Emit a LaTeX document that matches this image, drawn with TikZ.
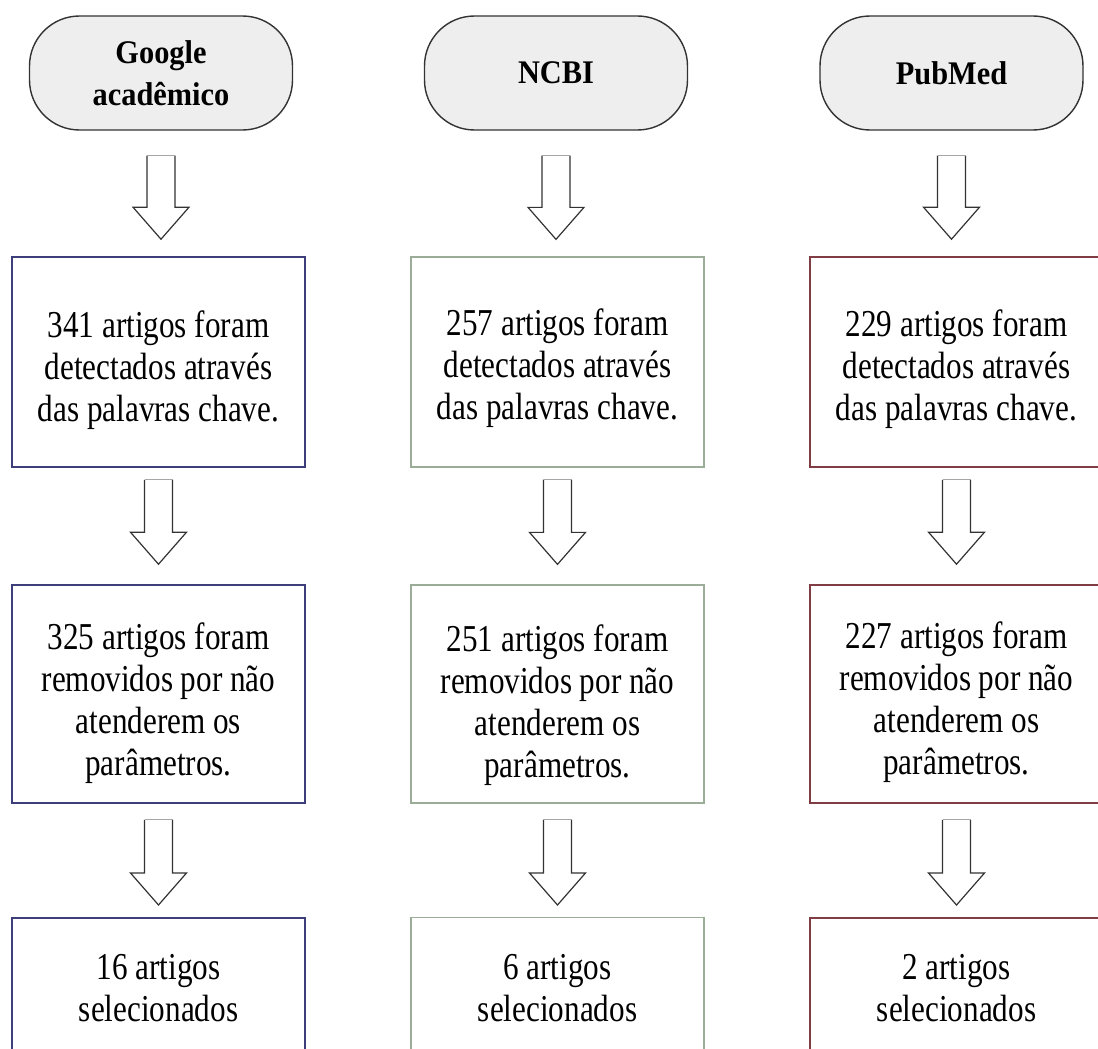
\documentclass[tikz,border=0pt]{standalone}
\usepackage{fontspec}
\setmainfont{Liberation Serif}
\newfontfamily\bodyfont[FakeStretch=0.82]{Liberation Serif}
\newfontfamily\pillfont[FakeStretch=0.92]{Liberation Serif}
\usetikzlibrary{calc}
\definecolor{bluebd}{RGB}{62,62,122}
\definecolor{greenbd}{RGB}{155,172,152}
\definecolor{redbd}{RGB}{128,62,68}
\definecolor{pillfill}{RGB}{238,238,238}
% hollow block arrow from node #1 (south) to node #2 (north); #3 gap at top, #4 gap at tip
\newcommand{\blockarr}[4]{%
  \draw[harrow] let \p1=(#1.south), \p2=(#2.north) in
    (\x1-14pt,\y1-#3) -- (\x1-14pt,\y2+#4+32pt) -- (\x1-28pt,\y2+#4+32pt)
    -- (\x1,\y2+#4) -- (\x1+28pt,\y2+#4+32pt) -- (\x1+14pt,\y2+#4+32pt)
    -- (\x1+14pt,\y1-#3);
  \draw[harrowtop] let \p1=(#1.south) in (\x1-14pt,\y1-#3) -- (\x1+14pt,\y1-#3);}
\begin{document}
\begin{tikzpicture}[x=1pt,y=-1pt,
  pill/.style={draw=black!80, fill=pillfill, line width=1.4pt, rounded corners=50pt,
    minimum width=263pt, minimum height=114pt, align=center, inner sep=0pt,
    font=\pillfont\bfseries\fontsize{33}{42}\selectfont},
  box/.style={draw, line width=1.6pt, minimum width=293pt, inner sep=0pt},
  txt/.style={align=center, inner sep=0pt, font=\bodyfont\fontsize{38}{42}\selectfont},
  harrow/.style={draw=black!80, line width=1.2pt, fill=white, line join=miter},
  harrowtop/.style={draw=black!35, line width=1.2pt}
]
\clip (0,0) rectangle (1098,1049);
\fill[white] (0,0) rectangle (1098,1049);

% sources
\node[pill] (p1) at (161,73) {Google\\acadêmico};
\node[pill] (p2) at (556,73) {NCBI};
\node[pill] (p3) at (951.5,73) {PubMed};

% Google academico column
\node[box, draw=bluebd, minimum height=210pt] (g1) at (158.5,362) {};
\node[txt] (g1t) at (158.5,370) {341 artigos foram\\detectados através\\das palavras chave.};
\node[box, draw=bluebd, minimum height=218pt] (g2) at (158.5,694) {};
\node[txt] (g2t) at (158.5,703) {325 artigos foram\\removidos por não\\atenderem os\\parâmetros.};
\node[box, draw=bluebd, minimum height=190pt, anchor=north] (g3) at (158.5,917) {};
\node[txt] (g3t) at (158.5,988) {16 artigos\\selecionados};

% NCBI column
\node[box, draw=greenbd, line width=1.3pt, minimum height=210pt] (n1) at (557.5,362) {};
\node[txt] (n1t) at (557.5,368) {257 artigos foram\\detectados através\\das palavras chave.};
\node[box, draw=greenbd, line width=1.3pt, minimum height=218pt] (n2) at (557.5,694) {};
\node[txt] (n2t) at (557.5,705) {251 artigos foram\\removidos por não\\atenderem os\\parâmetros.};
\node[box, draw=greenbd, line width=1.3pt, minimum height=190pt, anchor=north] (n3) at (557.5,917) {};
\node[txt] (n3t) at (557.5,988) {6 artigos\\selecionados};

% PubMed column
\node[box, draw=redbd, minimum height=210pt] (m1) at (956.5,362) {};
\node[txt] (m1t) at (956.5,369) {229 artigos foram\\detectados através\\das palavras chave.};
\node[box, draw=redbd, minimum height=218pt] (m2) at (956.5,694) {};
\node[txt] (m2t) at (956.5,702) {227 artigos foram\\removidos por não\\atenderem os\\parâmetros.};
\node[box, draw=redbd, minimum height=190pt, anchor=north] (m3) at (956.5,917) {};
\node[txt] (m3t) at (956.5,988) {2 artigos\\selecionados};

% hollow block arrows
\blockarr{p1}{g1}{25pt}{17pt}
\blockarr{g1}{g2}{12pt}{20pt}
\blockarr{g2}{g3}{16pt}{12pt}
\blockarr{p2}{n1}{25pt}{17pt}
\blockarr{n1}{n2}{12pt}{20pt}
\blockarr{n2}{n3}{16pt}{12pt}
\blockarr{p3}{m1}{25pt}{17pt}
\blockarr{m1}{m2}{12pt}{20pt}
\blockarr{m2}{m3}{16pt}{12pt}
\end{tikzpicture}
\end{document}
